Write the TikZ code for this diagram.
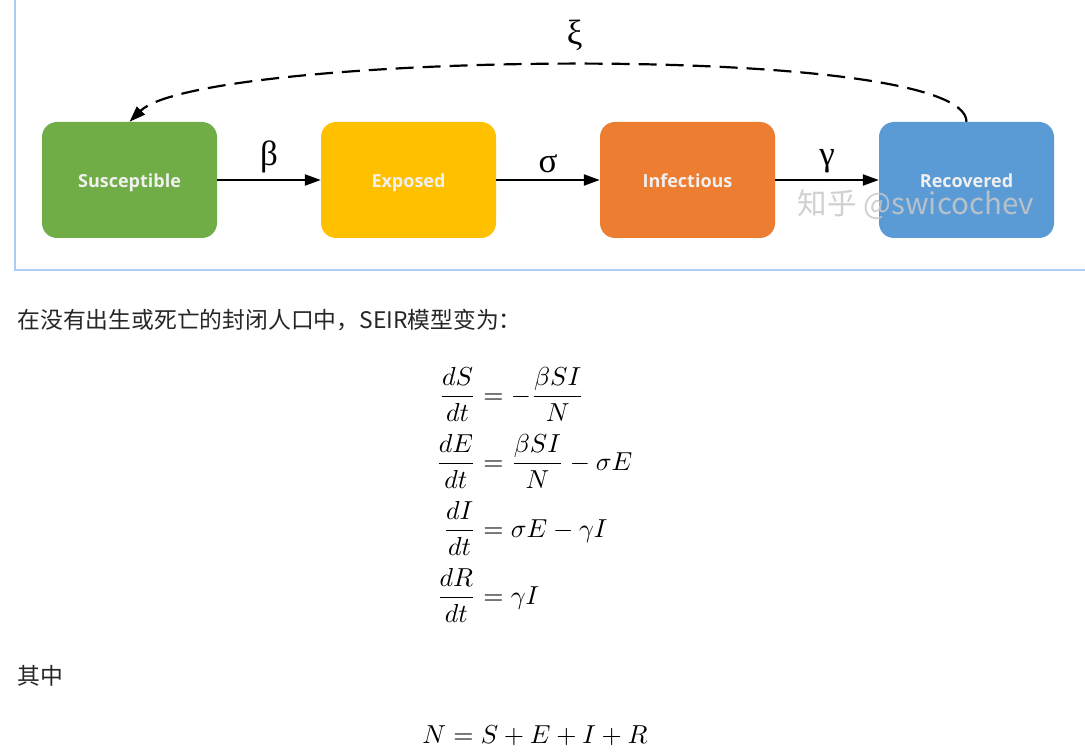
\documentclass[tikz,border=0pt]{standalone}
\usepackage{amsmath}
\usepackage{graphicx}
\usepackage{fontspec}
\usepackage{xcolor}
\usetikzlibrary{arrows.meta, positioning}
\newfontfamily\cjk{Noto Sans CJK SC}
\newfontfamily\boxfont{Open Sans}
\newfontfamily\greekfont{Liberation Serif}
\definecolor{seirS}{HTML}{70AD47}
\definecolor{seirE}{HTML}{FFC000}
\definecolor{seirI}{HTML}{ED7D31}
\definecolor{seirR}{HTML}{5B9BD5}
\definecolor{frameblue}{HTML}{AECDF5}
\tikzset{%
	every compartment/.style={
		rectangle,
		rounded corners=15pt,
		minimum width=175pt,
		minimum height=116pt,
		text height=15pt,
		text depth=0pt,
		text=white!94!black,
		font=\boxfont\bfseries\fontsize{18}{20}\selectfont
	},
	rate/.style={
		font=\greekfont\fontsize{35}{38}\selectfont
	},
	flow/.style={
		line width=2.2pt
	},
	watermark/.style={
		text={rgb,255:red,200;green,200;blue,200},
		text opacity=0.85,
		font=\cjk\fontsize{29.5}{33}\selectfont
	},
	body text/.style={
		text=black!85,
		font=\cjk\fontsize{22.8}{26}\selectfont
	},
}
\newcommand{\bigmath}[1]{\scalebox{2.6}{#1}}

\begin{document}
\begin{tikzpicture}[x=1pt, y=-1pt, >={Triangle[length=16pt, width=11pt]}]
			
			\fill [white] (0,0) rectangle (1085,754);
			\useasboundingbox (0,0) rectangle (1085,754);
			\draw [frameblue, line width=1.5pt] (15,0) -- (15,270) -- (1085,270);
			
			\foreach \m/\l/\c [count=\x from 0] in {S/Susceptible/seirS, E/Exposed/seirE, I/Infectious/seirI, R/Recovered/seirR}
			\node [every compartment/.try, fill=\c] (box-\m) at (129.5+\x*279, 180) {\l};
			
			\foreach \a/\b/\l in {S/E/β, E/I/σ, I/R/γ}
			\draw [->, flow] (box-\a) -- (box-\b)
			node [rate, above=3pt, midway] (rate-\a) {\l};
			
			\draw [->, flow, dash pattern=on 18pt off 9pt] (box-R.north) .. controls (967,40) and (200,52) .. (box-S.north)
			node [rate, above=10pt, midway] (rate-R) {ξ};
			
			\node [watermark] (mark) at (916,205) {知乎 @swicochev};
			
			\node [body text, anchor=west] (intro) at (14,320) {在没有出生或死亡的封闭人口中，SEIR模型变为：};
			
			\node (seir) at (534,495) {\bigmath{$\displaystyle\setlength{\jot}{4.2pt}\begin{aligned}
				\frac{dS}{dt} &= -\frac{\beta SI}{N}\\
				\frac{dE}{dt} &= \frac{\beta SI}{N} - \sigma E\\
				\frac{dI}{dt} &= \sigma E - \gamma I\\
				\frac{dR}{dt} &= \gamma I
			\end{aligned}$}};
			
			\node [body text, anchor=west] (where) at (14,676) {其中};
			
			\node [anchor=base] (total) at (535,743) {\bigmath{$N = S + E + I + R$}};
			
		\end{tikzpicture}
\end{document}
